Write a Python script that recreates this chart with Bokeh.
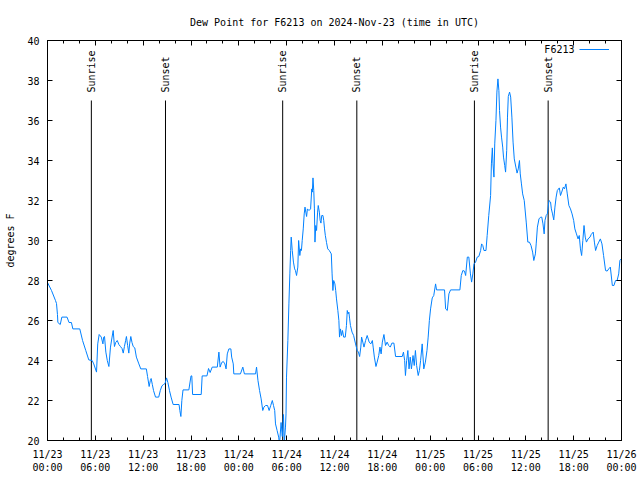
import math
from bokeh.plotting import figure
from bokeh.models import (Range1d, FixedTicker, LinearAxis, Legend, LegendItem, Label,
                          CustomJSTickFormatter)
from bokeh.core.properties import value
from bokeh.embed import file_html
from bokeh.resources import INLINE

# ---- data: hours since 2024-11-23 00:00 UTC, dew point (deg F) ----
hours = [
 0.0, 0.5, 1.0, 1.13, 1.25, 1.3, 1.6, 1.8, 2.45, 2.7, 3.0, 3.18, 4.05, 4.4, 4.8, 5.18, 5.6, 5.8, 6.15, 6.3,
 6.48, 6.75, 6.95, 7.05, 7.15, 7.32, 7.5, 7.7, 7.9, 8.1, 8.24, 8.4, 8.55, 8.75, 8.95, 9.15, 9.35, 9.5, 9.65, 9.8,
 9.9, 10.05, 10.2, 10.3, 10.45, 10.6, 10.75, 10.95, 11.15, 11.46, 11.7, 12.4, 12.55, 12.75, 12.9, 13.0, 13.15, 13.3, 13.55, 13.95,
 14.15, 14.35, 14.55, 14.75, 14.93, 15.1, 15.3, 15.5, 15.76, 16.5, 16.6, 16.73, 16.85, 17.0, 17.73, 18.0, 18.1, 18.2, 19.28, 19.4,
 20.0, 20.2, 20.4, 20.66, 21.3, 21.5, 21.65, 21.85, 22.05, 22.25, 22.4, 22.55, 22.75, 23.0, 23.1, 23.3, 23.37, 24.2, 24.5, 24.7,
 26.1, 26.22, 26.4, 26.6, 26.8, 27.0, 27.15, 27.35, 27.6, 27.8, 28.0, 28.2, 28.35, 28.5, 28.6, 28.8, 29.0, 29.1, 29.3, 29.45,
 29.6, 29.7, 29.85, 29.92, 29.98, 30.15, 30.28, 30.4, 30.5, 30.57, 30.7, 30.85, 31.0, 31.1, 31.24, 31.4, 31.5, 31.65, 31.75, 31.85,
 31.95, 32.08, 32.2, 32.3, 32.4, 32.5, 32.6, 32.8, 33.0, 33.15, 33.22, 33.3, 33.4, 33.48, 33.55, 33.65, 33.75, 33.88, 33.96, 34.1,
 34.2, 34.3, 34.4, 34.55, 34.65, 34.75, 34.85, 35.0, 35.15, 35.35, 35.6, 35.7, 35.8, 35.9, 36.05, 36.15, 36.25, 36.42, 36.55, 36.63,
 36.75, 36.88, 37.0, 37.15, 37.35, 37.5, 37.6, 37.7, 37.8, 37.9, 38.0, 38.2, 38.4, 38.64, 38.85, 39.0, 39.15, 39.3, 39.4, 39.55,
 39.7, 39.9, 40.1, 40.35, 40.55, 40.75, 40.85, 41.0, 41.2, 41.35, 41.55, 41.7, 41.85, 42.0, 42.2, 42.4, 42.6, 42.8, 43.0, 43.2,
 43.45, 43.66, 44.5, 44.65, 44.8, 44.9, 45.05, 45.2, 45.35, 45.5, 45.65, 45.85, 46.0, 46.15, 46.3, 46.5, 46.65, 46.8, 47.0, 47.2,
 47.4, 47.6, 47.75, 47.9, 48.05, 48.26, 48.45, 48.68, 48.8, 49.8, 49.94, 50.15, 50.35, 50.56, 51.73, 51.9, 52.1, 52.3, 52.45, 52.66,
 52.85, 53.05, 53.2, 53.35, 53.5, 53.7, 53.9, 54.1, 54.33, 54.45, 54.6, 54.75, 55.0, 55.15, 55.35, 55.58, 55.68, 55.8, 55.88, 56.0,
 56.1, 56.25, 56.37, 56.5, 56.62, 56.7, 56.83, 56.95, 57.1, 57.2, 57.35, 57.46, 57.6, 57.7, 57.8, 57.96, 58.1, 58.25, 58.4, 58.55,
 58.75, 58.9, 59.05, 59.2, 59.3, 59.45, 59.6, 59.8, 60.05, 60.25, 60.45, 60.65, 60.85, 61.0, 61.2, 61.3, 61.45, 61.65, 61.86, 62.0,
 62.15, 62.3, 62.4, 62.55, 62.7, 62.9, 63.1, 63.2, 63.35, 63.5, 63.65, 63.8, 63.95, 64.2, 64.35, 64.5, 64.7, 64.85, 65.03, 65.2,
 65.4, 65.6, 65.8, 66.0, 66.15, 66.35, 66.55, 66.7, 66.85, 67.0, 67.15, 67.3, 67.45, 67.6, 67.8, 68.05, 68.2, 68.45, 68.6, 68.75,
 68.95, 69.15, 69.35, 69.55, 69.75, 70.0, 70.2, 70.4, 70.6, 70.85, 71.05, 71.25, 71.45, 71.65, 71.8, 72.0,
]
dewpoint = [
 27.9, 27.5, 27.0, 26.85, 26.3, 25.9, 25.8, 26.17, 26.17, 25.9, 25.9, 25.58, 25.58, 25.0, 24.5, 24.03, 24.0, 23.83, 23.42, 24.83,
 25.3, 25.17, 24.83, 25.17, 25.2, 24.42, 24.0, 23.7, 24.67, 25.17, 25.5, 24.7, 24.9, 25.0, 24.8, 24.7, 24.6, 24.37, 24.7, 25.0,
 25.2, 24.75, 24.37, 24.83, 25.2, 24.9, 24.7, 24.63, 24.17, 23.83, 23.58, 23.58, 23.2, 22.7, 23.0, 23.1, 22.8, 22.5, 22.17, 22.17,
 22.5, 22.73, 22.8, 22.85, 23.13, 22.9, 22.5, 22.17, 21.8, 21.8, 21.5, 21.2, 22.0, 22.53, 22.53, 23.23, 23.23, 22.3, 22.3, 23.23,
 23.23, 23.6, 23.4, 23.67, 23.67, 24.42, 23.67, 23.9, 23.95, 23.83, 23.58, 24.33, 24.58, 24.58, 24.17, 23.83, 23.33, 23.33, 23.67, 23.33,
 23.33, 23.67, 23.0, 22.5, 22.08, 21.5, 21.67, 21.75, 21.75, 21.5, 21.75, 22.0, 21.75, 21.5, 20.83, 20.5, 20.17, 19.8, 20.9, 20.2,
 21.3, 19.9, 20.67, 21.33, 23.17, 25.0, 26.83, 28.33, 29.5, 30.17, 29.5, 28.92, 28.58, 28.5, 28.25, 28.67, 30.0, 29.25, 29.58, 29.5,
 30.0, 30.58, 31.33, 31.67, 31.42, 31.2, 31.58, 31.5, 31.58, 32.58, 32.42, 33.13, 32.5, 31.58, 29.92, 30.75, 30.5, 31.42, 31.75, 31.42,
 31.0, 30.87, 31.25, 31.25, 31.0, 30.58, 30.25, 29.9, 29.58, 29.5, 29.33, 28.33, 27.5, 28.0, 27.83, 27.5, 27.08, 26.5, 26.0, 25.17,
 25.58, 25.25, 25.5, 25.17, 25.17, 25.75, 26.5, 26.33, 26.42, 26.08, 25.75, 25.42, 25.25, 24.83, 24.5, 24.42, 24.2, 24.67, 25.17, 24.92,
 24.67, 25.0, 25.25, 24.92, 24.83, 25.0, 24.67, 24.17, 23.7, 23.92, 24.25, 24.67, 24.33, 24.92, 25.3, 24.75, 24.92, 24.75, 24.67, 24.87,
 24.87, 24.2, 24.2, 24.42, 24.0, 23.25, 24.0, 24.5, 23.58, 24.17, 23.58, 24.25, 23.75, 24.5, 23.75, 23.25, 23.5, 24.0, 24.83, 23.58,
 23.92, 24.5, 25.17, 26.0, 26.58, 27.13, 27.25, 27.83, 27.53, 27.53, 26.58, 26.5, 27.33, 27.53, 27.53, 28.25, 28.5, 28.47, 28.25, 29.17,
 29.17, 28.33, 27.92, 28.33, 28.83, 28.92, 29.17, 29.2, 29.5, 29.83, 29.75, 29.5, 29.5, 30.25, 31.25, 32.25, 33.83, 34.63, 33.83, 33.17,
 34.83, 36.0, 37.42, 38.08, 37.5, 36.5, 35.67, 35.17, 34.67, 34.17, 33.75, 33.42, 34.5, 36.17, 37.2, 37.42, 37.17, 36.17, 34.92, 34.08,
 33.67, 33.37, 33.58, 34.0, 33.33, 32.83, 32.33, 32.0, 30.92, 29.92, 29.92, 29.75, 29.42, 29.0, 29.33, 29.83, 30.67, 31.08, 31.17, 31.17,
 30.83, 30.33, 31.0, 31.25, 31.33, 32.0, 31.92, 31.58, 31.33, 31.03, 31.67, 32.17, 32.5, 32.63, 32.25, 32.42, 32.67, 32.58, 32.83, 32.33,
 31.75, 31.58, 31.33, 31.0, 30.58, 30.33, 30.08, 30.25, 29.58, 29.25, 30.0, 30.75, 30.17, 29.92, 30.08, 30.17, 30.3, 30.42, 29.92, 29.5,
 29.75, 29.92, 30.08, 29.83, 29.25, 28.5, 28.47, 28.58, 28.67, 27.75, 27.75, 28.0, 28.0, 28.33, 29.0, 29.1,
]

event_hours = [5.5, 14.8, 29.5, 38.8, 53.55, 62.8]
event_names = ["Sunrise", "Sunset", "Sunrise", "Sunset", "Sunrise", "Sunset"]
event_top = 37.0

x_ticks = [0, 6, 12, 18, 24, 30, 36, 42, 48, 54, 60, 66, 72]
x_tick_labels = ["11/23\n00:00", "11/23\n06:00", "11/23\n12:00", "11/23\n18:00",
                 "11/24\n00:00", "11/24\n06:00", "11/24\n12:00", "11/24\n18:00",
                 "11/25\n00:00", "11/25\n06:00", "11/25\n12:00", "11/25\n18:00",
                 "11/26\n00:00"]
x_minor = [h for h in range(0, 73, 2)]
y_ticks = [20, 22, 24, 26, 28, 30, 32, 34, 36, 38, 40]

FONT = "DejaVu Sans Mono"
FS = "10px"
LINE_COLOR = "#0080ff"

p = figure(width=640, height=480, output_backend="svg", toolbar_location=None,
           x_range=Range1d(0, 72), y_range=Range1d(20, 40),
           min_border_left=47, min_border_right=19, min_border_top=40, min_border_bottom=40,
           title="Dew Point for F6213 on 2024-Nov-23 (time in UTC)")
p.title.align = "center"
p.title.text_font = FONT
p.title.text_font_size = FS
p.title.text_font_style = "normal"
p.title.text_color = "black"
p.title.standoff = 26
p.xgrid.visible = False
p.ygrid.visible = False
p.outline_line_color = "black"
p.outline_line_width = 1
p.background_fill_color = "white"
p.border_fill_color = "white"

def style_axis(ax, ticks, minor=None, labels=True):
    ax.ticker = FixedTicker(ticks=ticks, minor_ticks=minor or [])
    ax.major_tick_in = 5
    ax.major_tick_out = 0
    ax.minor_tick_in = 3 if minor else 0
    ax.minor_tick_out = 0
    ax.axis_line_color = "black"
    ax.major_tick_line_color = "black"
    ax.minor_tick_line_color = "black"
    ax.major_label_text_font = FONT
    ax.major_label_text_font_size = FS
    ax.major_label_text_color = "black"
    ax.axis_label_text_font = FONT
    ax.axis_label_text_font_size = FS
    ax.axis_label_text_font_style = "normal"
    ax.axis_label_text_color = "black"
    if not labels:
        ax.formatter = CustomJSTickFormatter(code="return ''")
        ax.major_label_standoff = 0

xa = p.xaxis[0]
style_axis(xa, x_ticks, x_minor)
xa.major_label_overrides = {t: l for t, l in zip(x_ticks, x_tick_labels)}
xa.major_label_standoff = 8

ya = p.yaxis[0]
style_axis(ya, y_ticks)
ya.axis_label = "degrees F"
ya.major_label_standoff = 8
ya.axis_label_standoff = 8

top = LinearAxis()
style_axis(top, x_ticks, x_minor, labels=False)
p.add_layout(top, "above")
right = LinearAxis()
style_axis(right, y_ticks, labels=False)
p.add_layout(right, "right")

# sunrise / sunset markers
p.segment(x0=event_hours, y0=[20] * len(event_hours), x1=event_hours,
          y1=[event_top] * len(event_hours), line_color="black", line_width=1)
p.text(x=event_hours, y=[event_top + 0.4] * len(event_hours), text=event_names,
       angle=math.pi / 2, text_align="left", text_baseline="middle",
       text_font=value(FONT), text_font_size=FS, text_color="black")

r = p.line(hours, dewpoint, line_color=LINE_COLOR, line_width=1)

legend = Legend(items=[LegendItem(label=value(" "), renderers=[r])],
                location=(532, 386), padding=0, margin=0, spacing=0,
                glyph_width=30, glyph_height=10, label_standoff=0, label_width=0,
                label_text_font=FONT, label_text_font_size="2px",
                border_line_color=None, background_fill_alpha=0)
p.add_layout(legend, "center")
p.add_layout(Label(x=66.1, y=39.55, text="F6213", text_align="right", text_baseline="middle",
                   text_font=FONT, text_font_size=FS, text_color="black"))

open("out.html", "w").write(file_html(p, INLINE))
